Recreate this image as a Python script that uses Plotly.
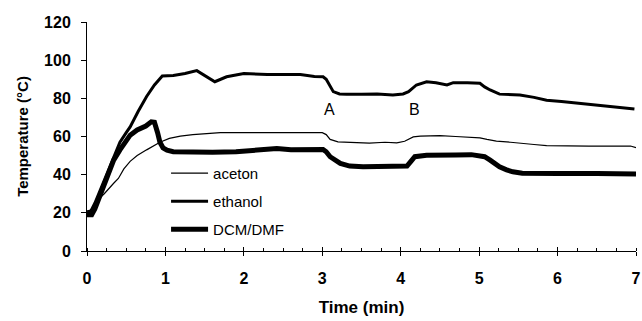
import plotly.graph_objects as go

# ---- data ----
aceton_t = [0, 0.05, 0.1, 0.17, 0.22, 0.28, 0.34, 0.4, 0.47, 0.55, 0.64, 0.76, 0.85, 0.93, 1.05, 1.19,
            1.35, 1.5, 1.7, 2.0, 2.5, 2.9, 3.0, 3.05, 3.1, 3.2, 3.39, 3.6, 3.8, 3.95, 4.05, 4.16, 4.25,
            4.36, 4.5, 4.7, 4.9, 5.01, 5.1, 5.22, 5.4, 5.52, 5.7, 5.86, 6.1, 6.4, 6.7, 6.93, 7.0]
aceton_T = [21, 21.5, 24, 28, 30, 33, 35.5, 38, 43, 47, 50, 53, 55, 57, 59, 60.2,
            61, 61.5, 62, 62, 62, 62, 62, 61, 58.5, 57.2, 56.7, 56.5, 57, 56.7, 57.5, 59.8, 60.2,
            60.2, 60.5, 60, 59.5, 59.3, 58.5, 57.6, 57, 56.4, 55.8, 55.2, 55, 55, 55, 55, 54.2]

ethanol_t = [0, 0.05, 0.1, 0.15, 0.2, 0.25, 0.3, 0.35, 0.42, 0.5, 0.55, 0.65, 0.76, 0.86, 0.96, 1.1,
             1.25, 1.4, 1.5, 1.63, 1.78, 2.0, 2.3, 2.5, 2.72, 2.9, 3.01, 3.05, 3.08, 3.14, 3.22, 3.31,
             3.5, 3.7, 3.9, 4.03, 4.1, 4.2, 4.33, 4.45, 4.59, 4.67, 4.85, 5.01, 5.07, 5.14, 5.26, 5.4,
             5.52, 5.7, 5.86, 6.05, 6.28, 6.5, 6.71, 6.85, 6.98]
ethanol_T = [20, 21, 25, 30, 35, 40, 45, 50, 57, 62, 65, 73, 81, 87, 91.7, 92,
             93, 94.5, 92, 88.7, 91.3, 93, 92.5, 92.5, 92.5, 91.5, 91.3, 90, 87.9, 83.5, 82.3, 82.1,
             82.1, 82.3, 81.8, 82.3, 83.5, 87, 88.7, 88.2, 87, 88.2, 88.2, 87.9, 86, 84.4, 82.2, 81.8,
             81.7, 80.5, 79, 78.3, 77.4, 76.5, 75.6, 75, 74.4]

dcm_t = [0, 0.06, 0.1, 0.17, 0.25, 0.34, 0.42, 0.5, 0.55, 0.64, 0.75, 0.82, 0.86, 0.9, 0.93, 0.97,
         1.02, 1.1, 1.3, 1.6, 1.9, 2.1, 2.3, 2.42, 2.6, 2.8, 3.01, 3.05, 3.1, 3.23, 3.35, 3.52, 3.8,
         4.08, 4.13, 4.18, 4.33, 4.5, 4.7, 4.9, 5.01, 5.07, 5.14, 5.26, 5.35, 5.43, 5.55, 5.67, 6.0,
         6.5, 6.8, 7.0]
dcm_T = [19, 19, 22, 30, 38.9, 47.6, 53, 58, 60.7, 63.4, 65.5, 67.7, 67.5, 62, 57, 54,
         52.8, 52, 51.8, 51.8, 52, 52.5, 53, 53.7, 53, 52.8, 53.2, 52, 49.4, 45.9, 44.5, 44.1, 44.1,
         44.5, 47, 49.4, 50.2, 50.5, 50.3, 50.5, 49.9, 49.4, 47.6, 44.1, 42.5, 41.5, 40.8, 40.6, 40.6,
         40.6, 40.5, 40.3]

series_names = ["aceton", "ethanol", "DCM/DMF"]
marker_labels = ["A", "B"]
marker_t = [3.09, 4.18]
marker_T = [74, 74]

x_ticks = [0, 1, 2, 3, 4, 5, 6, 7]
y_ticks = [0, 20, 40, 60, 80, 100, 120]

FONT = "Liberation Sans, Arial, sans-serif"

fig = go.Figure()
for name, t, T, w in zip(series_names, [aceton_t, ethanol_t, dcm_t], [aceton_T, ethanol_T, dcm_T], [1.2, 3, 5]):
    fig.add_trace(go.Scatter(x=t, y=T, mode="lines", name=name, legendgroup=name,
                             line=dict(color="black", width=w)))

# invisible trace on overlay axis for upward major ticks
fig.add_trace(go.Scatter(x=[0, 7], y=[0, 0], xaxis="x2", mode="lines", line=dict(width=0),
                         showlegend=False, hoverinfo="skip"))

for lab, t, T in zip(marker_labels, marker_t, marker_T):
    fig.add_annotation(x=t, y=T, text=lab, showarrow=False,
                       font=dict(family=FONT, size=16, color="black"))

fig.update_layout(
    width=642, height=321,
    margin=dict(l=87, r=6, t=22, b=70, pad=0),
    paper_bgcolor="white", plot_bgcolor="white",
    font=dict(family=FONT, color="black"),
    showlegend=True,
    legend=dict(x=0.144, y=0.411, xanchor="left", yanchor="top", bgcolor="rgba(0,0,0,0)",
                font=dict(family=FONT, size=15, color="black"), tracegroupgap=5.5, itemwidth=37),
    xaxis=dict(range=[0, 7], tickvals=x_ticks, ticktext=[f"<b>{v}</b>" for v in x_ticks],
               showline=True, linecolor="black", linewidth=1, showgrid=False, zeroline=False,
               ticks="outside", ticklen=4, tickcolor="black", automargin=False,
               ticklabeloverflow="allow",
               minor=dict(ticks="inside", dtick=0.25, ticklen=3, tickcolor="black"),
               tickfont=dict(family=FONT, size=16, color="black"), ticklabelstandoff=9,
               title=dict(text="<b>Time (min)</b>", font=dict(family=FONT, size=17, color="black"), standoff=14)),
    xaxis2=dict(range=[0, 7], overlaying="x", anchor="y", side="bottom", tickvals=x_ticks,
                showticklabels=False, ticks="inside", ticklen=4, tickcolor="black",
                showgrid=False, zeroline=False, showline=False, automargin=False),
    yaxis=dict(range=[0, 120], tickvals=y_ticks, ticktext=[f"<b>{v}</b>" for v in y_ticks],
               showline=True, linecolor="black", linewidth=1, showgrid=False, zeroline=False,
               ticks="outside", ticklen=5, tickcolor="black", automargin=False,
               tickfont=dict(family=FONT, size=16, color="black"), ticklabelstandoff=7,
               title=dict(text="<b>Temperature (°C)</b>", font=dict(family=FONT, size=15, color="black"), standoff=11)),
)

fig.write_html("out.html", config={"displayModeBar": False},
               post_script="document.body.style.margin='0';")
